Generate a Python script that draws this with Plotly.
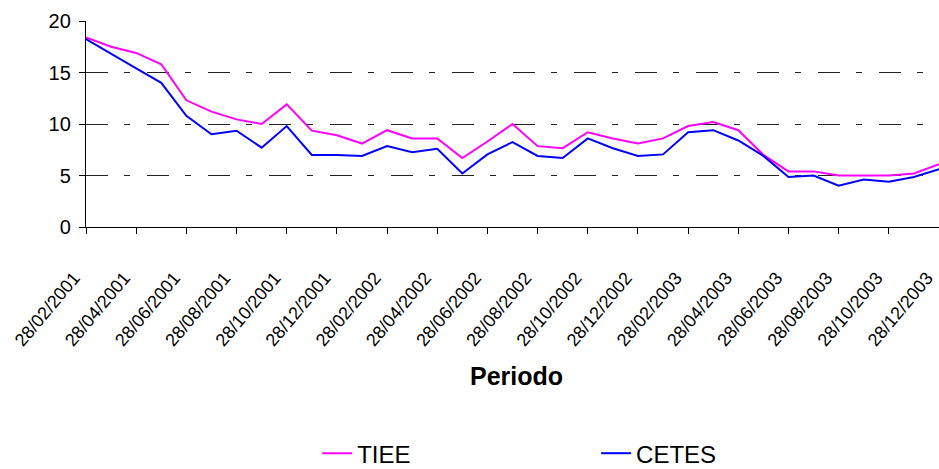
import plotly.graph_objects as go

# Monthly categories (every month, labels shown every second month)
periods = [
    "28/02/2001", "28/03/2001", "28/04/2001", "28/05/2001", "28/06/2001", "28/07/2001",
    "28/08/2001", "28/09/2001", "28/10/2001", "28/11/2001", "28/12/2001",
    "28/01/2002", "28/02/2002", "28/03/2002", "28/04/2002", "28/05/2002", "28/06/2002",
    "28/07/2002", "28/08/2002", "28/09/2002", "28/10/2002", "28/11/2002", "28/12/2002",
    "28/01/2003", "28/02/2003", "28/03/2003", "28/04/2003", "28/05/2003", "28/06/2003",
    "28/07/2003", "28/08/2003", "28/09/2003", "28/10/2003", "28/11/2003", "28/12/2003",
]

tiee = [18.4, 17.5, 16.9, 15.8, 12.3, 11.2, 10.45, 10.0, 11.9, 9.35, 8.9, 8.1,
        9.4, 8.6, 8.6, 6.7, 8.3, 10.0, 7.85, 7.65, 9.2, 8.6, 8.1, 8.6,
        9.8, 10.2, 9.4, 7.0, 5.4, 5.4, 5.0, 5.0, 5.0, 5.2, 6.1]

cetes = [18.25, 16.8, 15.4, 14.0, 10.8, 9.0, 9.35, 7.7, 9.8, 7.0, 7.0, 6.9,
         7.85, 7.25, 7.6, 5.2, 7.05, 8.25, 6.9, 6.7, 8.6, 7.65, 6.9, 7.05,
         9.2, 9.4, 8.4, 6.9, 4.85, 5.0, 4.0, 4.6, 4.4, 4.85, 5.6]

y_ticks = [0, 5, 10, 15, 20]

FONT = "Liberation Sans, Arial, sans-serif"

idx = list(range(len(periods)))
tick_idx = idx[::2]
tick_txt = [periods[i] for i in tick_idx]

fig = go.Figure()
fig.add_trace(go.Scatter(x=idx, y=tiee, mode="lines", name="TIEE",
                         line=dict(color="#FF00FF", width=2), legend="legend"))
fig.add_trace(go.Scatter(x=idx, y=cetes, mode="lines", name="CETES",
                         line=dict(color="#0000FF", width=2), legend="legend2"))

legend_common = dict(
    orientation="h", xanchor="left", yanchor="middle",
    font=dict(family=FONT, size=24, color="black"),
    bgcolor="rgba(0,0,0,0)", borderwidth=0,
)

fig.update_layout(
    width=939, height=469,
    margin=dict(l=86, r=0, t=21, b=242, autoexpand=False),
    paper_bgcolor="white", plot_bgcolor="white",
    font=dict(family=FONT, color="black"),
    showlegend=True,
    legend=dict(x=0.271, y=-1.100, **legend_common),
    legend2=dict(x=0.598, y=-1.100, **legend_common),
    xaxis=dict(
        range=[0, len(periods) - 1],
        tickmode="array", tickvals=tick_idx, ticktext=tick_txt,
        tickangle=-50, tickfont=dict(family=FONT, size=18, color="black"),
        ticks="outside", ticklen=6, tickcolor="black", tickwidth=1,
        ticklabelstandoff=26, ticklabelshift=-12, ticklabeloverflow="allow",
        showline=True, linecolor="black", linewidth=1.3,
        showgrid=False, zeroline=False,
    ),
    yaxis=dict(
        range=[0, 20], tickmode="array", tickvals=y_ticks,
        tickfont=dict(family=FONT, size=20, color="black"),
        ticks="outside", ticklen=6, tickcolor="black", tickwidth=1,
        ticklabelstandoff=4,
        showline=True, linecolor="black", linewidth=1.3,
        showgrid=True, gridcolor="#222222", gridwidth=1,
        griddash="22px,16px,6px,17px",
        zeroline=False,
    ),
    annotations=[dict(
        text="<b>Periodo</b>", xref="paper", yref="paper",
        x=0.505, y=-0.7233, xanchor="center", yanchor="middle",
        showarrow=False, font=dict(family=FONT, size=25, color="black"),
    )],
)

fig.write_html("out.html")
